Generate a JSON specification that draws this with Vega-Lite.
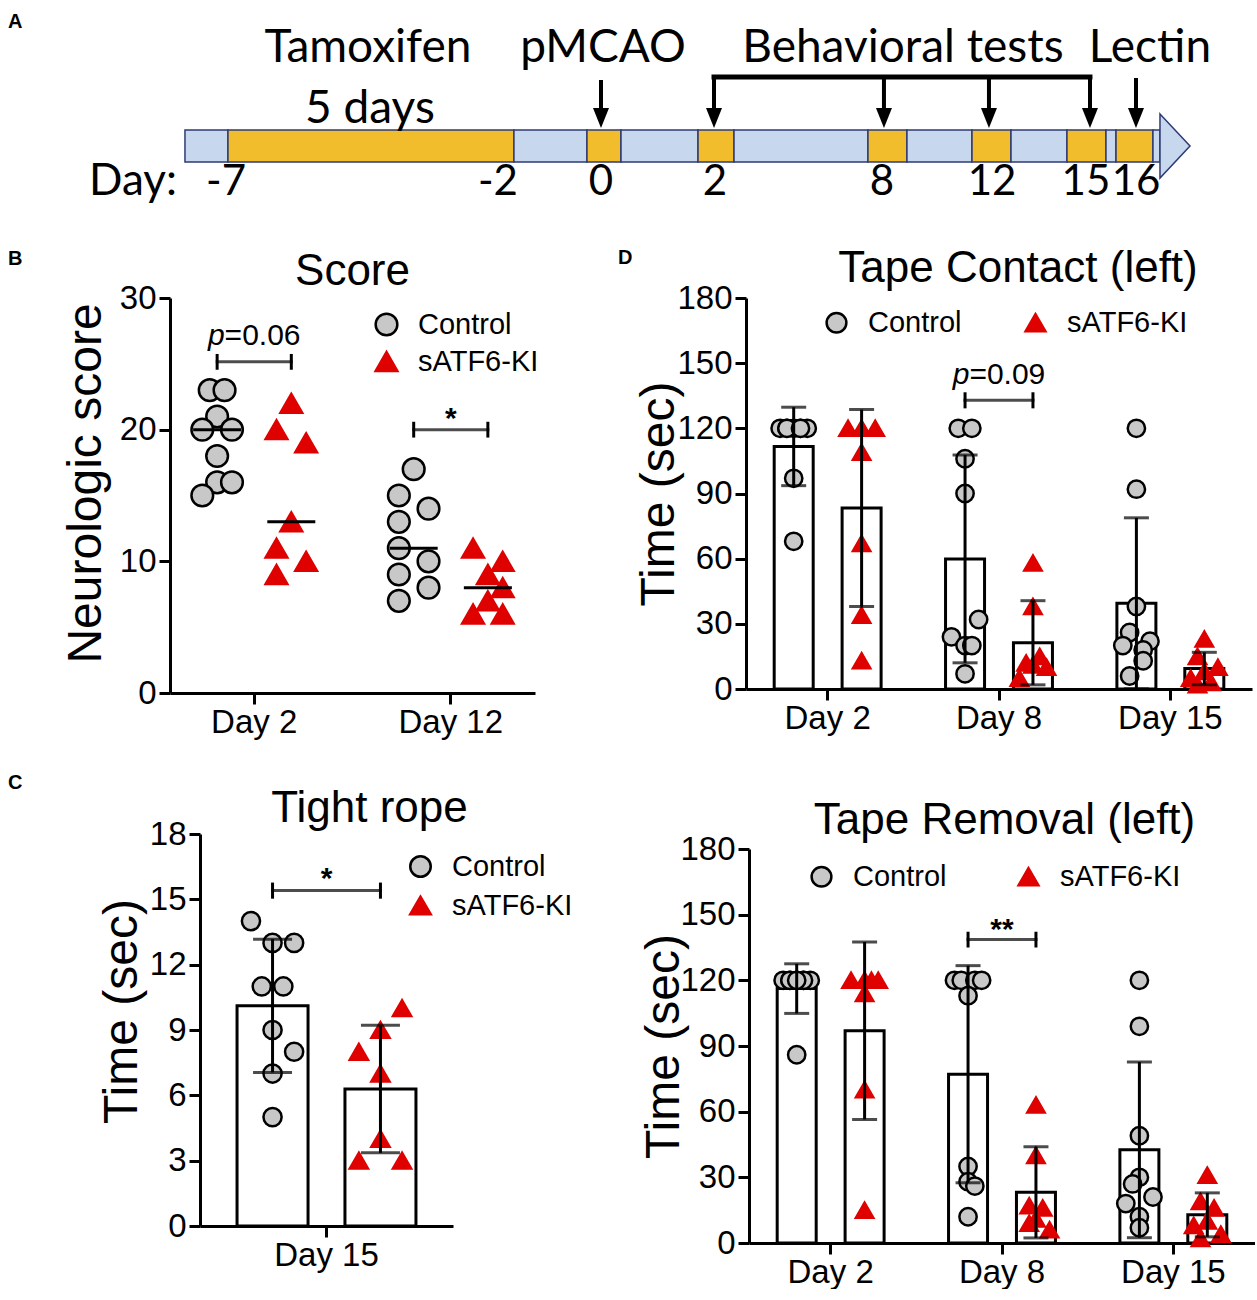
{
"$schema": "https://vega.github.io/schema/vega-lite/v6.json",
"padding": {"left": 8, "top": 10, "right": 0, "bottom": 0},
"config": {
  "font": "Liberation Sans",
  "view": {"stroke": null},
  "axis": {"labelFont": "Liberation Sans", "titleFont": "Liberation Sans", "labelFontSize": 33, "titleFontSize": 48, "titleFontWeight": "normal", "labelColor": "black", "titleColor": "black", "domainColor": "black", "tickColor": "black", "domainWidth": 3, "tickWidth": 3, "tickSize": 11, "labelPadding": 3, "grid": false, "labelFlush": false, "labelOverlap": false},
  "axisX": {"labelAngle": 0, "labelPadding": 2},
  "title": {"font": "Liberation Sans", "fontSize": 44, "fontWeight": "normal", "color": "black"},
  "legend": {"labelFont": "Liberation Sans", "labelFontSize": 29, "labelColor": "black"},
  "text": {"font": "Liberation Sans", "color": "black"}
},
"resolve": {"scale": {"shape": "independent", "fill": "independent", "stroke": "independent", "xOffset": "independent"}, "legend": {"shape": "independent", "fill": "independent", "stroke": "independent"}},
"datasets": {
  "tl_seg": [
    {"u":0,"u2":4.41,"v":0,"v2":1,"phase":"rest"},
    {"u":4.41,"u2":33.74,"v":0,"v2":1,"phase":"treat"},
    {"u":33.74,"u2":41.23,"v":0,"v2":1,"phase":"rest"},
    {"u":41.23,"u2":44.72,"v":0,"v2":1,"phase":"treat"},
    {"u":44.72,"u2":52.62,"v":0,"v2":1,"phase":"rest"},
    {"u":52.62,"u2":56.31,"v":0,"v2":1,"phase":"treat"},
    {"u":56.31,"u2":70.05,"v":0,"v2":1,"phase":"rest"},
    {"u":70.05,"u2":74.05,"v":0,"v2":1,"phase":"treat"},
    {"u":74.05,"u2":80.72,"v":0,"v2":1,"phase":"rest"},
    {"u":80.72,"u2":84.72,"v":0,"v2":1,"phase":"treat"},
    {"u":84.72,"u2":90.46,"v":0,"v2":1,"phase":"rest"},
    {"u":90.46,"u2":94.46,"v":0,"v2":1,"phase":"treat"},
    {"u":94.46,"u2":95.49,"v":0,"v2":1,"phase":"rest"},
    {"u":95.49,"u2":99.28,"v":0,"v2":1,"phase":"treat"},
    {"u":99.28,"u2":100,"v":0,"v2":1,"phase":"rest"}
  ],
  "tl_head": [{"u":100,"v":1.5,"v2":-0.5},{"u":103.08,"v":0.5,"v2":0.5}],
  "tl_stem": [
    {"u":42.67,"v":2.5625,"v2":1.5},
    {"u":54.26,"v":2.656,"v2":1.5},
    {"u":71.69,"v":2.656,"v2":1.5},
    {"u":82.46,"v":2.656,"v2":1.5},
    {"u":92.82,"v":2.656,"v2":1.5},
    {"u":97.54,"v":2.625,"v2":1.5}
  ],
  "tl_hbar": [{"u":54.26,"u2":92.82,"v":2.656}],
  "tl_arrow": [{"u":42.67,"v":1.375},{"u":54.26,"v":1.375},{"u":71.69,"v":1.375},{"u":82.46,"v":1.375},{"u":92.82,"v":1.375},{"u":97.54,"v":1.375}],
  "tl_text": [
    {"kind":"h","u":18.77,"v":3.125,"label":"Tamoxifen"},
    {"kind":"h","u":18.97,"v":1.219,"label":"5 days"},
    {"kind":"h","u":42.87,"v":3.125,"label":"pMCAO"},
    {"kind":"h","u":73.64,"v":3.125,"label":"Behavioral tests"},
    {"kind":"h","u":98.97,"v":3.125,"label":"Lectin"},
    {"kind":"c","u":4.21,"v":-1.03,"label":"-7"},
    {"kind":"c","u":32.10,"v":-1.03,"label":"-2"},
    {"kind":"c","u":42.67,"v":-1.03,"label":"0"},
    {"kind":"c","u":54.36,"v":-1.03,"label":"2"},
    {"kind":"c","u":71.49,"v":-1.03,"label":"8"},
    {"kind":"c","u":82.77,"v":-1.03,"label":"12"},
    {"kind":"c","u":92.41,"v":-1.03,"label":"15"},
    {"kind":"c","u":97.54,"v":-1.03,"label":"16"},
    {"kind":"r","u":-0.82,"v":-1.03,"label":"Day:"},
    {"kind":"a","u":-18.15,"v":4.69,"label":"A"}
  ],
  "score": [
    {"day":"Day 2","group":"Control","lane":"C-1","value":23},
    {"day":"Day 2","group":"Control","lane":"C1","value":23},
    {"day":"Day 2","group":"Control","lane":"Control","value":21},
    {"day":"Day 2","group":"Control","lane":"C-2","value":20},
    {"day":"Day 2","group":"Control","lane":"C2","value":20},
    {"day":"Day 2","group":"Control","lane":"Control","value":18},
    {"day":"Day 2","group":"Control","lane":"Control","value":16},
    {"day":"Day 2","group":"Control","lane":"C2","value":16},
    {"day":"Day 2","group":"Control","lane":"C-2","value":15},
    {"day":"Day 2","group":"sATF6-KI","lane":"sATF6-KI","value":22},
    {"day":"Day 2","group":"sATF6-KI","lane":"K-2","value":20},
    {"day":"Day 2","group":"sATF6-KI","lane":"K2","value":19},
    {"day":"Day 2","group":"sATF6-KI","lane":"sATF6-KI","value":13},
    {"day":"Day 2","group":"sATF6-KI","lane":"K-2","value":11},
    {"day":"Day 2","group":"sATF6-KI","lane":"K2","value":10},
    {"day":"Day 2","group":"sATF6-KI","lane":"K-2","value":9},
    {"day":"Day 12","group":"Control","lane":"Control","value":17},
    {"day":"Day 12","group":"Control","lane":"C-2","value":15},
    {"day":"Day 12","group":"Control","lane":"C2","value":14},
    {"day":"Day 12","group":"Control","lane":"C-2","value":13},
    {"day":"Day 12","group":"Control","lane":"C-2","value":11},
    {"day":"Day 12","group":"Control","lane":"C2","value":10},
    {"day":"Day 12","group":"Control","lane":"C-2","value":9},
    {"day":"Day 12","group":"Control","lane":"C2","value":8},
    {"day":"Day 12","group":"Control","lane":"C-2","value":7},
    {"day":"Day 12","group":"sATF6-KI","lane":"K-2","value":11},
    {"day":"Day 12","group":"sATF6-KI","lane":"K2","value":10},
    {"day":"Day 12","group":"sATF6-KI","lane":"sATF6-KI","value":9},
    {"day":"Day 12","group":"sATF6-KI","lane":"K2","value":8},
    {"day":"Day 12","group":"sATF6-KI","lane":"sATF6-KI","value":7},
    {"day":"Day 12","group":"sATF6-KI","lane":"K-2","value":6},
    {"day":"Day 12","group":"sATF6-KI","lane":"K2","value":6}
  ],
  "score_br": [
    {"kind":"bar","day":"Day 2","lane":"M","value":25.15},
    {"kind":"cap","day":"Day 2","lane":"Control","value":24.55,"value2":25.75},
    {"kind":"cap","day":"Day 2","lane":"sATF6-KI","value":24.55,"value2":25.75},
    {"kind":"pre","day":"Day 2","lane":"M","value":26.45,"text":"p"},
    {"kind":"post","day":"Day 2","lane":"M","value":26.45,"text":"=0.06"},
    {"kind":"bar","day":"Day 12","lane":"M","value":20.0},
    {"kind":"cap","day":"Day 12","lane":"Control","value":19.4,"value2":20.6},
    {"kind":"cap","day":"Day 12","lane":"sATF6-KI","value":19.4,"value2":20.6},
    {"kind":"star","day":"Day 12","lane":"M","value":20.1,"text":"*"}
  ],
  "rope": [
    {"day":"Day 15","group":"Control","lane":"C-2","value":14},
    {"day":"Day 15","group":"Control","lane":"Control","value":13},
    {"day":"Day 15","group":"Control","lane":"C2","value":13},
    {"day":"Day 15","group":"Control","lane":"C-1","value":11},
    {"day":"Day 15","group":"Control","lane":"C1","value":11},
    {"day":"Day 15","group":"Control","lane":"Control","value":9},
    {"day":"Day 15","group":"Control","lane":"C2","value":8},
    {"day":"Day 15","group":"Control","lane":"Control","value":7},
    {"day":"Day 15","group":"Control","lane":"Control","value":5},
    {"day":"Day 15","group":"sATF6-KI","lane":"K2","value":10},
    {"day":"Day 15","group":"sATF6-KI","lane":"sATF6-KI","value":9},
    {"day":"Day 15","group":"sATF6-KI","lane":"K-2","value":8},
    {"day":"Day 15","group":"sATF6-KI","lane":"sATF6-KI","value":7},
    {"day":"Day 15","group":"sATF6-KI","lane":"sATF6-KI","value":4},
    {"day":"Day 15","group":"sATF6-KI","lane":"K-2","value":3},
    {"day":"Day 15","group":"sATF6-KI","lane":"K2","value":3}
  ],
  "rope_br": [
    {"kind":"bar","day":"Day 15","lane":"M","value":15.4},
    {"kind":"cap","day":"Day 15","lane":"Control","value":15.03,"value2":15.77},
    {"kind":"cap","day":"Day 15","lane":"sATF6-KI","value":15.03,"value2":15.77},
    {"kind":"star","day":"Day 15","lane":"M","value":15.5,"text":"*"}
  ],
  "contact": [
    {"day":"Day 2","group":"Control","lane":"C-2","value":120},
    {"day":"Day 2","group":"Control","lane":"C-1","value":120},
    {"day":"Day 2","group":"Control","lane":"Control","value":120},
    {"day":"Day 2","group":"Control","lane":"C1","value":120},
    {"day":"Day 2","group":"Control","lane":"C2","value":120},
    {"day":"Day 2","group":"Control","lane":"C-1","value":120},
    {"day":"Day 2","group":"Control","lane":"C1","value":120},
    {"day":"Day 2","group":"Control","lane":"Control","value":97},
    {"day":"Day 2","group":"Control","lane":"Control","value":68},
    {"day":"Day 2","group":"sATF6-KI","lane":"K-2","value":120},
    {"day":"Day 2","group":"sATF6-KI","lane":"K2","value":120},
    {"day":"Day 2","group":"sATF6-KI","lane":"sATF6-KI","value":120},
    {"day":"Day 2","group":"sATF6-KI","lane":"sATF6-KI","value":109},
    {"day":"Day 2","group":"sATF6-KI","lane":"sATF6-KI","value":67},
    {"day":"Day 2","group":"sATF6-KI","lane":"sATF6-KI","value":34},
    {"day":"Day 2","group":"sATF6-KI","lane":"sATF6-KI","value":13},
    {"day":"Day 8","group":"Control","lane":"C-1","value":120},
    {"day":"Day 8","group":"Control","lane":"C1","value":120},
    {"day":"Day 8","group":"Control","lane":"Control","value":106},
    {"day":"Day 8","group":"Control","lane":"Control","value":90},
    {"day":"Day 8","group":"Control","lane":"C2","value":32},
    {"day":"Day 8","group":"Control","lane":"C-2","value":24},
    {"day":"Day 8","group":"Control","lane":"Control","value":20},
    {"day":"Day 8","group":"Control","lane":"C1","value":20},
    {"day":"Day 8","group":"Control","lane":"Control","value":7},
    {"day":"Day 8","group":"sATF6-KI","lane":"sATF6-KI","value":58},
    {"day":"Day 8","group":"sATF6-KI","lane":"sATF6-KI","value":38},
    {"day":"Day 8","group":"sATF6-KI","lane":"K1","value":15},
    {"day":"Day 8","group":"sATF6-KI","lane":"K-1","value":12},
    {"day":"Day 8","group":"sATF6-KI","lane":"sATF6-KI","value":11},
    {"day":"Day 8","group":"sATF6-KI","lane":"K2","value":10},
    {"day":"Day 8","group":"sATF6-KI","lane":"K-2","value":5},
    {"day":"Day 15","group":"Control","lane":"Control","value":120},
    {"day":"Day 15","group":"Control","lane":"Control","value":92},
    {"day":"Day 15","group":"Control","lane":"Control","value":38},
    {"day":"Day 15","group":"Control","lane":"C-1","value":26},
    {"day":"Day 15","group":"Control","lane":"C2","value":22},
    {"day":"Day 15","group":"Control","lane":"C-2","value":20},
    {"day":"Day 15","group":"Control","lane":"C1","value":18},
    {"day":"Day 15","group":"Control","lane":"C1","value":13},
    {"day":"Day 15","group":"Control","lane":"C-1","value":6},
    {"day":"Day 15","group":"sATF6-KI","lane":"sATF6-KI","value":23},
    {"day":"Day 15","group":"sATF6-KI","lane":"K-1","value":15},
    {"day":"Day 15","group":"sATF6-KI","lane":"K2","value":10},
    {"day":"Day 15","group":"sATF6-KI","lane":"sATF6-KI","value":8},
    {"day":"Day 15","group":"sATF6-KI","lane":"K-2","value":5},
    {"day":"Day 15","group":"sATF6-KI","lane":"K1","value":3},
    {"day":"Day 15","group":"sATF6-KI","lane":"K-1","value":2}
  ],
  "contact_br": [
    {"kind":"bar","day":"Day 8","lane":"M","value":132.9},
    {"kind":"cap","day":"Day 8","lane":"Control","value":129.2,"value2":136.6},
    {"kind":"cap","day":"Day 8","lane":"sATF6-KI","value":129.2,"value2":136.6},
    {"kind":"pre","day":"Day 8","lane":"M","value":140.5,"text":"p"},
    {"kind":"post","day":"Day 8","lane":"M","value":140.5,"text":"=0.09"}
  ],
  "removal": [
    {"day":"Day 2","group":"Control","lane":"C-2","value":120},
    {"day":"Day 2","group":"Control","lane":"C-1","value":120},
    {"day":"Day 2","group":"Control","lane":"Control","value":120},
    {"day":"Day 2","group":"Control","lane":"C1","value":120},
    {"day":"Day 2","group":"Control","lane":"C2","value":120},
    {"day":"Day 2","group":"Control","lane":"C-1","value":120},
    {"day":"Day 2","group":"Control","lane":"C1","value":120},
    {"day":"Day 2","group":"Control","lane":"Control","value":120},
    {"day":"Day 2","group":"Control","lane":"Control","value":86},
    {"day":"Day 2","group":"sATF6-KI","lane":"K-2","value":120},
    {"day":"Day 2","group":"sATF6-KI","lane":"K2","value":120},
    {"day":"Day 2","group":"sATF6-KI","lane":"sATF6-KI","value":120},
    {"day":"Day 2","group":"sATF6-KI","lane":"K1","value":120},
    {"day":"Day 2","group":"sATF6-KI","lane":"sATF6-KI","value":114},
    {"day":"Day 2","group":"sATF6-KI","lane":"sATF6-KI","value":70},
    {"day":"Day 2","group":"sATF6-KI","lane":"sATF6-KI","value":15},
    {"day":"Day 8","group":"Control","lane":"C-2","value":120},
    {"day":"Day 8","group":"Control","lane":"C-1","value":120},
    {"day":"Day 8","group":"Control","lane":"C1","value":120},
    {"day":"Day 8","group":"Control","lane":"C2","value":120},
    {"day":"Day 8","group":"Control","lane":"Control","value":113},
    {"day":"Day 8","group":"Control","lane":"Control","value":35},
    {"day":"Day 8","group":"Control","lane":"Control","value":28},
    {"day":"Day 8","group":"Control","lane":"C1","value":26},
    {"day":"Day 8","group":"Control","lane":"Control","value":12},
    {"day":"Day 8","group":"sATF6-KI","lane":"sATF6-KI","value":63},
    {"day":"Day 8","group":"sATF6-KI","lane":"sATF6-KI","value":40},
    {"day":"Day 8","group":"sATF6-KI","lane":"K-1","value":17},
    {"day":"Day 8","group":"sATF6-KI","lane":"K1","value":16},
    {"day":"Day 8","group":"sATF6-KI","lane":"sATF6-KI","value":11},
    {"day":"Day 8","group":"sATF6-KI","lane":"K-1","value":9},
    {"day":"Day 8","group":"sATF6-KI","lane":"K2","value":6},
    {"day":"Day 15","group":"Control","lane":"Control","value":120},
    {"day":"Day 15","group":"Control","lane":"Control","value":99},
    {"day":"Day 15","group":"Control","lane":"Control","value":49},
    {"day":"Day 15","group":"Control","lane":"Control","value":30},
    {"day":"Day 15","group":"Control","lane":"C-1","value":27},
    {"day":"Day 15","group":"Control","lane":"C2","value":21},
    {"day":"Day 15","group":"Control","lane":"C-2","value":18},
    {"day":"Day 15","group":"Control","lane":"Control","value":12},
    {"day":"Day 15","group":"Control","lane":"Control","value":7},
    {"day":"Day 15","group":"sATF6-KI","lane":"sATF6-KI","value":31},
    {"day":"Day 15","group":"sATF6-KI","lane":"K-1","value":19},
    {"day":"Day 15","group":"sATF6-KI","lane":"K1","value":16},
    {"day":"Day 15","group":"sATF6-KI","lane":"sATF6-KI","value":10},
    {"day":"Day 15","group":"sATF6-KI","lane":"K-2","value":8},
    {"day":"Day 15","group":"sATF6-KI","lane":"K2","value":4},
    {"day":"Day 15","group":"sATF6-KI","lane":"K-1","value":2}
  ],
  "removal_br": [
    {"kind":"bar","day":"Day 8","lane":"M","value":138.6},
    {"kind":"cap","day":"Day 8","lane":"Control","value":135.0,"value2":142.2},
    {"kind":"cap","day":"Day 8","lane":"sATF6-KI","value":135.0,"value2":142.2},
    {"kind":"star","day":"Day 8","lane":"M","value":139.0,"text":"**"}
  ]
},
"vconcat": [
  {
    "width": 1241, "height": 200,
    "encoding": {
      "x": {"field": "u", "type": "quantitative", "scale": {"domain": [-18.15, 109.13], "nice": false, "zero": false}, "axis": null},
      "y": {"field": "v", "type": "quantitative", "scale": {"domain": [-1.5, 4.75], "nice": false, "zero": false}, "axis": null}
    },
    "layer": [
      {"data": {"name": "tl_seg"}, "mark": {"type": "rect", "stroke": "#2e3b73", "strokeWidth": 1.5},
       "encoding": {"x2": {"field": "u2"}, "y2": {"field": "v2"},
         "fill": {"field": "phase", "type": "nominal", "scale": {"domain": ["rest", "treat"], "range": ["#c6d7ee", "#f1bd2c"]}, "legend": null}}},
      {"data": {"name": "tl_head"}, "mark": {"type": "area", "fill": "#c6d7ee", "stroke": "#2e3b73", "strokeWidth": 1.5},
       "encoding": {"y2": {"field": "v2"}}},
      {"data": {"name": "tl_stem"}, "mark": {"type": "rule", "strokeWidth": 4, "color": "black"},
       "encoding": {"y2": {"field": "v2"}}},
      {"data": {"name": "tl_hbar"}, "mark": {"type": "rule", "strokeWidth": 5, "color": "black", "strokeCap": "square"},
       "encoding": {"x2": {"field": "u2"}}},
      {"data": {"name": "tl_arrow"}, "mark": {"type": "point", "shape": "M-0.8,-1L0.8,-1L0,1Z", "size": 400, "filled": true, "color": "black", "opacity": 1}},
      {"data": {"name": "tl_text"}, "transform": [{"filter": "datum.kind == 'h'"}],
       "mark": {"type": "text", "font": "Lato", "fontSize": 46, "baseline": "alphabetic", "align": "center", "color": "black"},
       "encoding": {"text": {"field": "label"}}},
      {"data": {"name": "tl_text"}, "transform": [{"filter": "datum.kind == 'c'"}],
       "mark": {"type": "text", "font": "Lato", "fontSize": 42, "baseline": "alphabetic", "align": "center", "color": "black"},
       "encoding": {"text": {"field": "label"}}},
      {"data": {"name": "tl_text"}, "transform": [{"filter": "datum.kind == 'r'"}],
       "mark": {"type": "text", "font": "Lato", "fontSize": 44, "baseline": "alphabetic", "align": "right", "color": "black"},
       "encoding": {"text": {"field": "label"}}},
      {"data": {"name": "tl_text"}, "transform": [{"filter": "datum.kind == 'a'"}],
       "mark": {"type": "text", "fontSize": 20, "fontWeight": "bold", "baseline": "top", "align": "left", "color": "black"},
       "encoding": {"text": {"field": "label"}}}
    ]
  },
  {
    "columns": 4,
    "bounds": "flush",
    "align": "each",
    "spacing": {"row": 86, "column": 83},
    "resolve": {"scale": {"shape": "independent", "fill": "independent", "stroke": "independent", "xOffset": "independent"}, "legend": {"shape": "independent", "fill": "independent", "stroke": "independent"}},
    "concat": [
      {"width": 79, "height": 450, "data": {"values": [{}]}, "mark": {"type": "text", "text": ""},
       "title": {"text": "B", "anchor": "start", "fontSize": 20, "fontWeight": "bold", "baseline": "alphabetic", "offset": 13}},
      {
        "width": 365, "height": 395,
        "title": {"text": "Score", "baseline": "alphabetic", "offset": -47},
        "encoding": {
          "x": {"field": "day", "type": "nominal", "title": null, "scale": {"domain": ["Day 2", "Day 12"], "paddingInner": 0.283, "paddingOuter": 0.07}},
          "y": {"field": "value", "type": "quantitative", "title": "Neurologic score", "scale": {"domain": [0, 30], "nice": false}, "axis": {"values": [0, 10, 20, 30], "titlePadding": 9, "titleY": 185}}
        },
        "layer": [
          {"data": {"name": "score"}, "mark": {"type": "point", "filled": true, "size": 470, "strokeWidth": 2.5, "opacity": 1},
           "encoding": {
             "xOffset": {"field": "lane", "type": "nominal", "scale": {"domain": ["C-4","C-3","C-2","C-1","Control","C1","C2","C3","C4","M","K-4","K-3","K-2","K-1","sATF6-KI","K1","K2","K3","K4"], "paddingInner": 0, "paddingOuter": 0}},
             "shape": {"field": "group", "type": "nominal", "scale": {"domain": ["Control", "sATF6-KI"], "range": ["circle", "triangle-up"]}, "legend": {"orient": "none", "legendX": 202, "legendY": 12, "title": null, "direction": "vertical", "symbolSize": 470, "symbolStrokeWidth": 2.5, "labelOffset": 17, "rowPadding": 6, "labelFontSize": 29}},
             "fill": {"field": "group", "type": "nominal", "scale": {"domain": ["Control", "sATF6-KI"], "range": ["#c8c8c8", "#df0000"]}, "legend": {"orient": "none", "legendX": 202, "legendY": 12, "title": null, "direction": "vertical", "symbolSize": 470, "symbolStrokeWidth": 2.5, "labelOffset": 17, "rowPadding": 6, "labelFontSize": 29}},
             "stroke": {"field": "group", "type": "nominal", "scale": {"domain": ["Control", "sATF6-KI"], "range": ["#000000", "#df0000"]}, "legend": {"orient": "none", "legendX": 202, "legendY": 12, "title": null, "direction": "vertical", "symbolSize": 470, "symbolStrokeWidth": 2.5, "labelOffset": 17, "rowPadding": 6, "labelFontSize": 29}}
           }},
          {"data": {"name": "score"}, "mark": {"type": "tick", "size": 48, "thickness": 3, "color": "black"},
           "encoding": {
             "xOffset": {"field": "group", "type": "nominal", "scale": {"domain": ["C-4","C-3","C-2","C-1","Control","C1","C2","C3","C4","M","K-4","K-3","K-2","K-1","sATF6-KI","K1","K2","K3","K4"], "paddingInner": 0, "paddingOuter": 0}},
             "y": {"aggregate": "median", "field": "value", "type": "quantitative", "title": "Neurologic score"}
           }},
          {"data": {"name": "score_br"}, "transform": [{"filter": "datum.kind == 'bar'"}], "mark": {"type": "tick", "size": 77, "thickness": 3, "color": "black"},
           "encoding": {"xOffset": {"field": "lane", "type": "nominal", "scale": {"domain": ["C-4","C-3","C-2","C-1","Control","C1","C2","C3","C4","M","K-4","K-3","K-2","K-1","sATF6-KI","K1","K2","K3","K4"], "paddingInner": 0, "paddingOuter": 0}}}},
          {"data": {"name": "score_br"}, "transform": [{"filter": "datum.kind == 'cap'"}], "mark": {"type": "rule", "strokeWidth": 3, "color": "black"},
           "encoding": {"xOffset": {"field": "lane", "type": "nominal", "scale": {"domain": ["C-4","C-3","C-2","C-1","Control","C1","C2","C3","C4","M","K-4","K-3","K-2","K-1","sATF6-KI","K1","K2","K3","K4"], "paddingInner": 0, "paddingOuter": 0}}, "y2": {"field": "value2"}}},
          {"data": {"name": "score_br"}, "transform": [{"filter": "datum.kind == 'pre'"}], "mark": {"type": "text", "fontSize": 30, "fontStyle": "italic", "align": "right", "baseline": "alphabetic", "dx": -29.6},
           "encoding": {"xOffset": {"field": "lane", "type": "nominal", "scale": {"domain": ["C-4","C-3","C-2","C-1","Control","C1","C2","C3","C4","M","K-4","K-3","K-2","K-1","sATF6-KI","K1","K2","K3","K4"], "paddingInner": 0, "paddingOuter": 0}}, "text": {"field": "text"}}},
          {"data": {"name": "score_br"}, "transform": [{"filter": "datum.kind == 'post'"}], "mark": {"type": "text", "fontSize": 30, "align": "left", "baseline": "alphabetic", "dx": -29.6},
           "encoding": {"xOffset": {"field": "lane", "type": "nominal", "scale": {"domain": ["C-4","C-3","C-2","C-1","Control","C1","C2","C3","C4","M","K-4","K-3","K-2","K-1","sATF6-KI","K1","K2","K3","K4"], "paddingInner": 0, "paddingOuter": 0}}, "text": {"field": "text"}}},
          {"data": {"name": "score_br"}, "transform": [{"filter": "datum.kind == 'star'"}], "mark": {"type": "text", "fontSize": 30, "fontWeight": "bold", "align": "center", "baseline": "alphabetic"},
           "encoding": {"xOffset": {"field": "lane", "type": "nominal", "scale": {"domain": ["C-4","C-3","C-2","C-1","Control","C1","C2","C3","C4","M","K-4","K-3","K-2","K-1","sATF6-KI","K1","K2","K3","K4"], "paddingInner": 0, "paddingOuter": 0}}, "text": {"field": "text"}}}
        ]
      },
      {"width": 45, "height": 10, "data": {"values": [{}]}, "mark": {"type": "text", "text": ""},
       "title": {"text": "D", "anchor": "start", "fontSize": 20, "fontWeight": "bold", "baseline": "alphabetic", "offset": 13}},
      {
        "width": 506, "height": 391,
        "title": {"text": "Tape Contact (left)", "baseline": "alphabetic", "offset": -43.5, "dx": 19},
        "encoding": {
          "x": {"field": "day", "type": "nominal", "title": null, "scale": {"domain": ["Day 2", "Day 8", "Day 15"], "paddingInner": 0.247, "paddingOuter": 0.1}},
          "y": {"field": "value", "type": "quantitative", "title": "Time (sec)", "scale": {"domain": [0, 180], "nice": false}, "axis": {"values": [0, 30, 60, 90, 120, 150, 180], "titlePadding": -7}}
        },
        "layer": [
          {"data": {"name": "contact"}, "mark": {"type": "bar", "width": 39, "fill": "white", "stroke": "black", "strokeWidth": 3},
           "encoding": {
             "xOffset": {"field": "group", "type": "nominal", "scale": {"domain": ["C-4","C-3","C-2","C-1","Control","C1","C2","C3","C4","M","K-4","K-3","K-2","K-1","sATF6-KI","K1","K2","K3","K4"], "paddingInner": 0, "paddingOuter": 0}},
             "y": {"aggregate": "mean", "field": "value", "type": "quantitative", "title": "Time (sec)"}
           }},
          {"data": {"name": "contact"}, "mark": {"type": "point", "filled": true, "size": 300, "strokeWidth": 2.5, "opacity": 1},
           "encoding": {
             "xOffset": {"field": "lane", "type": "nominal", "scale": {"domain": ["C-4","C-3","C-2","C-1","Control","C1","C2","C3","C4","M","K-4","K-3","K-2","K-1","sATF6-KI","K1","K2","K3","K4"], "paddingInner": 0, "paddingOuter": 0}},
             "shape": {"field": "group", "type": "nominal", "scale": {"domain": ["Control", "sATF6-KI"], "range": ["circle", "triangle-up"]}, "legend": {"orient": "none", "legendX": 76, "legendY": 10, "title": null, "direction": "horizontal", "symbolSize": 390, "symbolStrokeWidth": 2.5, "labelOffset": 17, "columnPadding": 58, "labelFontSize": 29}},
             "fill": {"field": "group", "type": "nominal", "scale": {"domain": ["Control", "sATF6-KI"], "range": ["#c8c8c8", "#df0000"]}, "legend": {"orient": "none", "legendX": 76, "legendY": 10, "title": null, "direction": "horizontal", "symbolSize": 390, "symbolStrokeWidth": 2.5, "labelOffset": 17, "columnPadding": 58, "labelFontSize": 29}},
             "stroke": {"field": "group", "type": "nominal", "scale": {"domain": ["Control", "sATF6-KI"], "range": ["#000000", "#df0000"]}, "legend": {"orient": "none", "legendX": 76, "legendY": 10, "title": null, "direction": "horizontal", "symbolSize": 390, "symbolStrokeWidth": 2.5, "labelOffset": 17, "columnPadding": 58, "labelFontSize": 29}}
           }},
          {"data": {"name": "contact"}, "mark": {"type": "errorbar", "extent": "stdev", "ticks": true, "size": 25, "thickness": 3, "color": "black"},
           "encoding": {
             "xOffset": {"field": "group", "type": "nominal", "scale": {"domain": ["C-4","C-3","C-2","C-1","Control","C1","C2","C3","C4","M","K-4","K-3","K-2","K-1","sATF6-KI","K1","K2","K3","K4"], "paddingInner": 0, "paddingOuter": 0}},
             "y": {"field": "value", "type": "quantitative", "title": "Time (sec)"}
           }},
          {"data": {"name": "contact_br"}, "transform": [{"filter": "datum.kind == 'bar'"}], "mark": {"type": "tick", "size": 71, "thickness": 3, "color": "black"},
           "encoding": {"xOffset": {"field": "lane", "type": "nominal", "scale": {"domain": ["C-4","C-3","C-2","C-1","Control","C1","C2","C3","C4","M","K-4","K-3","K-2","K-1","sATF6-KI","K1","K2","K3","K4"], "paddingInner": 0, "paddingOuter": 0}}}},
          {"data": {"name": "contact_br"}, "transform": [{"filter": "datum.kind == 'cap'"}], "mark": {"type": "rule", "strokeWidth": 3, "color": "black"},
           "encoding": {"xOffset": {"field": "lane", "type": "nominal", "scale": {"domain": ["C-4","C-3","C-2","C-1","Control","C1","C2","C3","C4","M","K-4","K-3","K-2","K-1","sATF6-KI","K1","K2","K3","K4"], "paddingInner": 0, "paddingOuter": 0}}, "y2": {"field": "value2"}}},
          {"data": {"name": "contact_br"}, "transform": [{"filter": "datum.kind == 'pre'"}], "mark": {"type": "text", "fontSize": 30, "fontStyle": "italic", "align": "right", "baseline": "alphabetic", "dx": -29.6},
           "encoding": {"xOffset": {"field": "lane", "type": "nominal", "scale": {"domain": ["C-4","C-3","C-2","C-1","Control","C1","C2","C3","C4","M","K-4","K-3","K-2","K-1","sATF6-KI","K1","K2","K3","K4"], "paddingInner": 0, "paddingOuter": 0}}, "text": {"field": "text"}}},
          {"data": {"name": "contact_br"}, "transform": [{"filter": "datum.kind == 'post'"}], "mark": {"type": "text", "fontSize": 30, "align": "left", "baseline": "alphabetic", "dx": -29.6},
           "encoding": {"xOffset": {"field": "lane", "type": "nominal", "scale": {"domain": ["C-4","C-3","C-2","C-1","Control","C1","C2","C3","C4","M","K-4","K-3","K-2","K-1","sATF6-KI","K1","K2","K3","K4"], "paddingInner": 0, "paddingOuter": 0}}, "text": {"field": "text"}}}
        ]
      },
      {"width": 79, "height": 10, "data": {"values": [{}]}, "mark": {"type": "text", "text": ""},
       "title": {"text": "C", "anchor": "start", "fontSize": 20, "fontWeight": "bold", "baseline": "alphabetic", "offset": 24}},
      {
        "width": 283, "height": 392,
        "title": {"text": "Tight rope", "baseline": "alphabetic", "offset": -47.5, "dx": 58},
        "encoding": {
          "x": {"field": "day", "type": "nominal", "title": null, "scale": {"domain": ["Day 15"], "paddingInner": 0, "paddingOuter": 0.117, "range": [30, 283]}},
          "y": {"field": "value", "type": "quantitative", "title": "Time (sec)", "scale": {"domain": [0, 18], "nice": false}, "axis": {"values": [0, 3, 6, 9, 12, 15, 18], "titlePadding": 3, "titleY": 177, "offset": -30}}
        },
        "layer": [
          {"data": {"name": "rope"}, "mark": {"type": "bar", "width": 71, "fill": "white", "stroke": "black", "strokeWidth": 3},
           "encoding": {
             "xOffset": {"field": "group", "type": "nominal", "scale": {"domain": ["C-4","C-3","C-2","C-1","Control","C1","C2","C3","C4","M","K-4","K-3","K-2","K-1","sATF6-KI","K1","K2","K3","K4"], "paddingInner": 0, "paddingOuter": 0}},
             "y": {"aggregate": "mean", "field": "value", "type": "quantitative", "title": "Time (sec)"}
           }},
          {"data": {"name": "rope"}, "mark": {"type": "point", "filled": true, "size": 330, "strokeWidth": 2.5, "opacity": 1},
           "encoding": {
             "xOffset": {"field": "lane", "type": "nominal", "scale": {"domain": ["C-4","C-3","C-2","C-1","Control","C1","C2","C3","C4","M","K-4","K-3","K-2","K-1","sATF6-KI","K1","K2","K3","K4"], "paddingInner": 0, "paddingOuter": 0}},
             "shape": {"field": "group", "type": "nominal", "scale": {"domain": ["Control", "sATF6-KI"], "range": ["circle", "triangle-up"]}, "legend": {"orient": "none", "legendX": 236, "legendY": 18, "title": null, "direction": "vertical", "symbolSize": 420, "symbolStrokeWidth": 2.5, "labelOffset": 17, "rowPadding": 9, "labelFontSize": 29}},
             "fill": {"field": "group", "type": "nominal", "scale": {"domain": ["Control", "sATF6-KI"], "range": ["#c8c8c8", "#df0000"]}, "legend": {"orient": "none", "legendX": 236, "legendY": 18, "title": null, "direction": "vertical", "symbolSize": 420, "symbolStrokeWidth": 2.5, "labelOffset": 17, "rowPadding": 9, "labelFontSize": 29}},
             "stroke": {"field": "group", "type": "nominal", "scale": {"domain": ["Control", "sATF6-KI"], "range": ["#000000", "#df0000"]}, "legend": {"orient": "none", "legendX": 236, "legendY": 18, "title": null, "direction": "vertical", "symbolSize": 420, "symbolStrokeWidth": 2.5, "labelOffset": 17, "rowPadding": 9, "labelFontSize": 29}}
           }},
          {"data": {"name": "rope"}, "mark": {"type": "errorbar", "extent": "stdev", "ticks": true, "size": 39, "thickness": 3, "color": "black"},
           "encoding": {
             "xOffset": {"field": "group", "type": "nominal", "scale": {"domain": ["C-4","C-3","C-2","C-1","Control","C1","C2","C3","C4","M","K-4","K-3","K-2","K-1","sATF6-KI","K1","K2","K3","K4"], "paddingInner": 0, "paddingOuter": 0}},
             "y": {"field": "value", "type": "quantitative", "title": "Time (sec)"}
           }},
          {"data": {"name": "rope_br"}, "transform": [{"filter": "datum.kind == 'bar'"}], "mark": {"type": "tick", "size": 111, "thickness": 3, "color": "black"},
           "encoding": {"xOffset": {"field": "lane", "type": "nominal", "scale": {"domain": ["C-4","C-3","C-2","C-1","Control","C1","C2","C3","C4","M","K-4","K-3","K-2","K-1","sATF6-KI","K1","K2","K3","K4"], "paddingInner": 0, "paddingOuter": 0}}}},
          {"data": {"name": "rope_br"}, "transform": [{"filter": "datum.kind == 'cap'"}], "mark": {"type": "rule", "strokeWidth": 3, "color": "black"},
           "encoding": {"xOffset": {"field": "lane", "type": "nominal", "scale": {"domain": ["C-4","C-3","C-2","C-1","Control","C1","C2","C3","C4","M","K-4","K-3","K-2","K-1","sATF6-KI","K1","K2","K3","K4"], "paddingInner": 0, "paddingOuter": 0}}, "y2": {"field": "value2"}}},
          {"data": {"name": "rope_br"}, "transform": [{"filter": "datum.kind == 'star'"}], "mark": {"type": "text", "fontSize": 30, "fontWeight": "bold", "align": "center", "baseline": "alphabetic"},
           "encoding": {"xOffset": {"field": "lane", "type": "nominal", "scale": {"domain": ["C-4","C-3","C-2","C-1","Control","C1","C2","C3","C4","M","K-4","K-3","K-2","K-1","sATF6-KI","K1","K2","K3","K4"], "paddingInner": 0, "paddingOuter": 0}}, "text": {"field": "text"}}}
        ]
      },
      {"width": 45, "height": 10, "data": {"values": [{}]}, "mark": {"type": "text", "text": ""}},
      {
        "width": 509, "height": 409,
        "title": {"text": "Tape Removal (left)", "baseline": "alphabetic", "offset": -45, "dx": 4},
        "encoding": {
          "x": {"field": "day", "type": "nominal", "title": null, "scale": {"domain": ["Day 2", "Day 8", "Day 15"], "paddingInner": 0.247, "paddingOuter": 0.1, "range": [3, 509]}},
          "y": {"field": "value", "type": "quantitative", "title": "Time (sec)", "scale": {"domain": [0, 180], "nice": false, "range": [409, 15]}, "axis": {"values": [0, 30, 60, 90, 120, 150, 180], "titlePadding": -9, "offset": -3}}
        },
        "layer": [
          {"data": {"name": "removal"}, "mark": {"type": "bar", "width": 39, "fill": "white", "stroke": "black", "strokeWidth": 3},
           "encoding": {
             "xOffset": {"field": "group", "type": "nominal", "scale": {"domain": ["C-4","C-3","C-2","C-1","Control","C1","C2","C3","C4","M","K-4","K-3","K-2","K-1","sATF6-KI","K1","K2","K3","K4"], "paddingInner": 0, "paddingOuter": 0}},
             "y": {"aggregate": "mean", "field": "value", "type": "quantitative", "title": "Time (sec)"}
           }},
          {"data": {"name": "removal"}, "mark": {"type": "point", "filled": true, "size": 300, "strokeWidth": 2.5, "opacity": 1},
           "encoding": {
             "xOffset": {"field": "lane", "type": "nominal", "scale": {"domain": ["C-4","C-3","C-2","C-1","Control","C1","C2","C3","C4","M","K-4","K-3","K-2","K-1","sATF6-KI","K1","K2","K3","K4"], "paddingInner": 0, "paddingOuter": 0}},
             "shape": {"field": "group", "type": "nominal", "scale": {"domain": ["Control", "sATF6-KI"], "range": ["circle", "triangle-up"]}, "legend": {"orient": "none", "legendX": 61, "legendY": 28, "title": null, "direction": "horizontal", "symbolSize": 390, "symbolStrokeWidth": 2.5, "labelOffset": 17, "columnPadding": 66, "labelFontSize": 29}},
             "fill": {"field": "group", "type": "nominal", "scale": {"domain": ["Control", "sATF6-KI"], "range": ["#c8c8c8", "#df0000"]}, "legend": {"orient": "none", "legendX": 61, "legendY": 28, "title": null, "direction": "horizontal", "symbolSize": 390, "symbolStrokeWidth": 2.5, "labelOffset": 17, "columnPadding": 66, "labelFontSize": 29}},
             "stroke": {"field": "group", "type": "nominal", "scale": {"domain": ["Control", "sATF6-KI"], "range": ["#000000", "#df0000"]}, "legend": {"orient": "none", "legendX": 61, "legendY": 28, "title": null, "direction": "horizontal", "symbolSize": 390, "symbolStrokeWidth": 2.5, "labelOffset": 17, "columnPadding": 66, "labelFontSize": 29}}
           }},
          {"data": {"name": "removal"}, "mark": {"type": "errorbar", "extent": "stdev", "ticks": true, "size": 25, "thickness": 3, "color": "black"},
           "encoding": {
             "xOffset": {"field": "group", "type": "nominal", "scale": {"domain": ["C-4","C-3","C-2","C-1","Control","C1","C2","C3","C4","M","K-4","K-3","K-2","K-1","sATF6-KI","K1","K2","K3","K4"], "paddingInner": 0, "paddingOuter": 0}},
             "y": {"field": "value", "type": "quantitative", "title": "Time (sec)"}
           }},
          {"data": {"name": "removal_br"}, "transform": [{"filter": "datum.kind == 'bar'"}], "mark": {"type": "tick", "size": 71, "thickness": 3, "color": "black"},
           "encoding": {"xOffset": {"field": "lane", "type": "nominal", "scale": {"domain": ["C-4","C-3","C-2","C-1","Control","C1","C2","C3","C4","M","K-4","K-3","K-2","K-1","sATF6-KI","K1","K2","K3","K4"], "paddingInner": 0, "paddingOuter": 0}}}},
          {"data": {"name": "removal_br"}, "transform": [{"filter": "datum.kind == 'cap'"}], "mark": {"type": "rule", "strokeWidth": 3, "color": "black"},
           "encoding": {"xOffset": {"field": "lane", "type": "nominal", "scale": {"domain": ["C-4","C-3","C-2","C-1","Control","C1","C2","C3","C4","M","K-4","K-3","K-2","K-1","sATF6-KI","K1","K2","K3","K4"], "paddingInner": 0, "paddingOuter": 0}}, "y2": {"field": "value2"}}},
          {"data": {"name": "removal_br"}, "transform": [{"filter": "datum.kind == 'star'"}], "mark": {"type": "text", "fontSize": 30, "fontWeight": "bold", "align": "center", "baseline": "alphabetic"},
           "encoding": {"xOffset": {"field": "lane", "type": "nominal", "scale": {"domain": ["C-4","C-3","C-2","C-1","Control","C1","C2","C3","C4","M","K-4","K-3","K-2","K-1","sATF6-KI","K1","K2","K3","K4"], "paddingInner": 0, "paddingOuter": 0}}, "text": {"field": "text"}}}
        ]
      }
    ]
  }
],
"spacing": 36
}
